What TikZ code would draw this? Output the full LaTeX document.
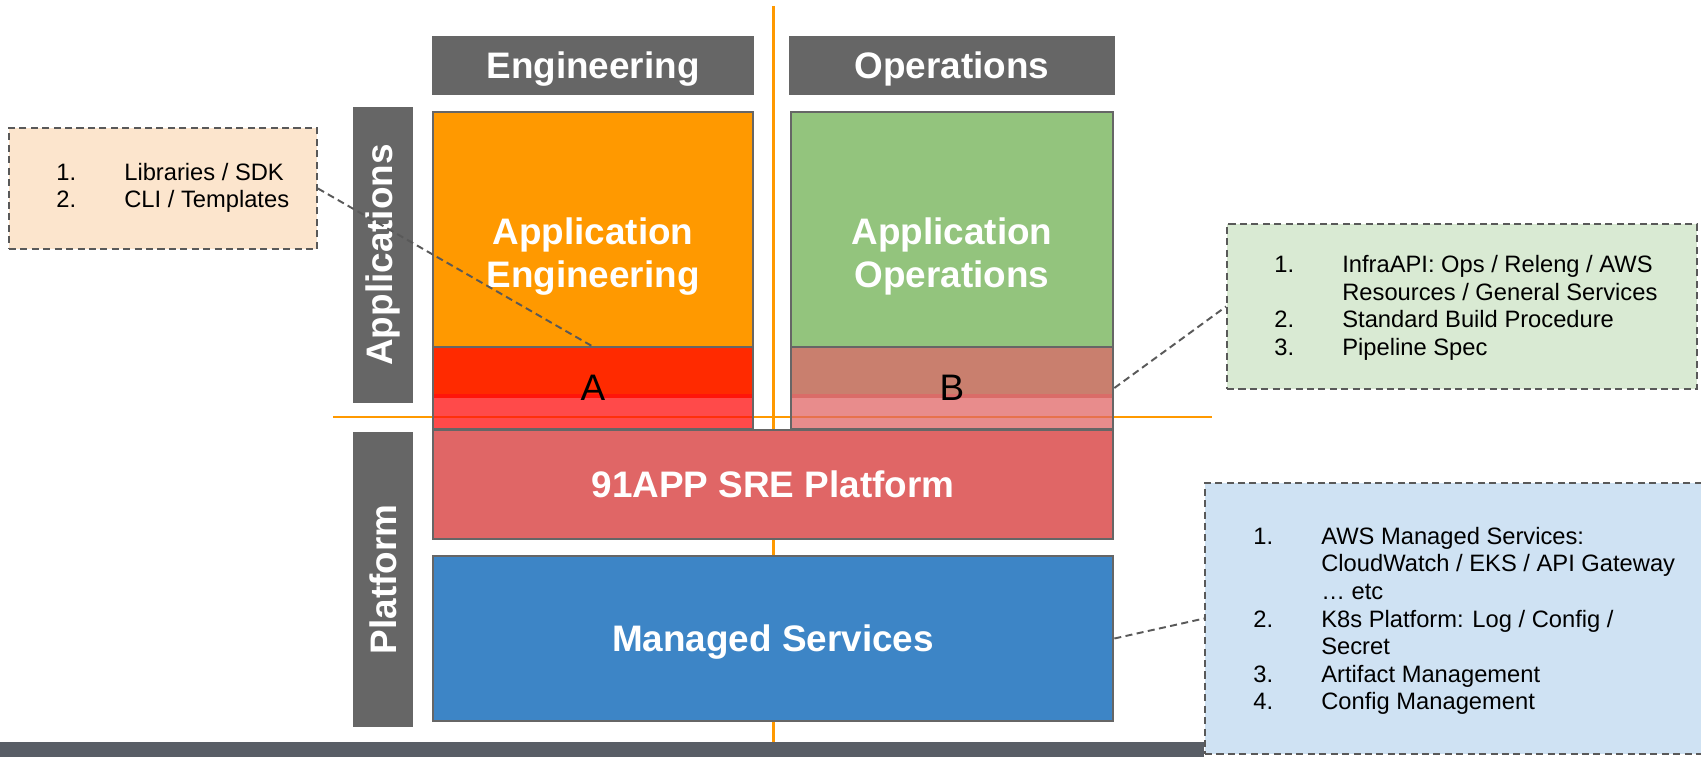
\documentclass[tikz,border=0pt]{standalone}
\usepackage{fontspec}
\setmainfont{Liberation Sans}

\definecolor{hdrgray}{HTML}{666666}
\definecolor{guideorange}{HTML}{FF9900}
\definecolor{engorange}{HTML}{FF9900}
\definecolor{opsgreen}{HTML}{93C47D}
\definecolor{zonered}{HTML}{FF2A00}
\definecolor{zoneglow}{HTML}{FF0E0E}
\definecolor{zonebrown}{HTML}{C97F6E}
\definecolor{srered}{HTML}{E06666}
\definecolor{msblue}{HTML}{3D85C6}
\definecolor{notepeach}{HTML}{FCE5CD}
\definecolor{notegreen}{HTML}{D9EAD3}
\definecolor{noteblue}{HTML}{CFE2F3}
\definecolor{leadgray}{HTML}{595959}
\definecolor{bandgray}{HTML}{595E66}

\newcommand{\noteline}[2]{\makebox[1.36cm][l]{#1}#2}
\newcommand{\notecont}[1]{\hspace*{1.36cm}#1}

\begin{document}
\begin{tikzpicture}[x=0.02cm, y=-0.02cm, header/.style={fill=hdrgray, text=white, font=\fontsize{21}{25}\selectfont\bfseries, minimum height=1.18cm, text depth=0pt, inner sep=0pt}, sidebar/.style={fill=hdrgray, text=white, font=\fontsize{21}{25}\selectfont\bfseries, rotate=90, minimum height=1.2cm, inner sep=0pt}, block/.style={draw=hdrgray, line width=1.6pt, text=white, font=\fontsize{21}{24.4}\selectfont\bfseries, text depth=0pt, inner sep=0pt}, blocktext/.style={text=white, font=\fontsize{21}{24.4}\selectfont\bfseries, align=center, inner sep=0pt}, zone/.style={draw=hdrgray, line width=1.6pt, text=black, font=\fontsize{21}{25}\selectfont, minimum height=1.64cm, inner sep=0pt}, zonefill/.style={inner sep=0pt}, note/.style={draw=leadgray, line width=1.1pt, dash pattern=on 4pt off 2.5pt, inner sep=0pt}, notetext/.style={anchor=west, align=left, font=\fontsize{13.5}{15.7}\selectfont, inner sep=0pt}, leader/.style={draw=leadgray, line width=1.1pt, dash pattern=on 4pt off 2.5pt}, guide/.style={draw=guideorange, line width=1.7pt}]

    \useasboundingbox (0,0) rectangle (1701,757);

    % =========================================================================
    % Ejes de fondo
    % =========================================================================
    \draw[guide] (773,6) -- (773,757);
    \draw[guide] (333,417) -- (1212,417);
    \fill[bandgray] (0,742) rectangle (1204,757);

    % Cabeceras
    \node[header, minimum width=6.44cm] (hdrEng) at (593,65.5) {Engineering};
    \node[header, minimum width=6.52cm] (hdrOps) at (952,65.5) {Operations};

    % Barras laterales
    \node[sidebar, minimum width=5.92cm] (sideApp) at (383,255) {Applications};
    \node[sidebar, minimum width=5.9cm] (sidePlat) at (383,579.5) {Platform};

    % =========================================================================
    % Applications
    % =========================================================================
    \node[block, fill=engorange, minimum width=6.4cm, minimum height=4.7cm] (appEng) at (593,229.5) {};
    \node[blocktext] (appEngTxt) at ([yshift=-0.54cm]appEng.center) {Application\\Engineering};
    \node[block, fill=opsgreen, minimum width=6.44cm, minimum height=4.7cm] (appOps) at (952,229.5) {};
    \node[blocktext] (appOpsTxt) at ([yshift=-0.54cm]appOps.center) {Application\\Operations};

    % Zona A
    \node[zonefill, fill=zonered, minimum width=6.4cm, minimum height=1.02cm] (aTop) at (593,372.5) {};
    \node[zonefill, fill=zoneglow, fill opacity=0.75, minimum width=6.4cm, minimum height=0.7cm] (aLow) at (593,411.5) {};
    \node[zone, minimum width=6.4cm] (aBox) at (593,388) {A};

    % Zona B
    \node[zonefill, fill=zonebrown, minimum width=6.44cm, minimum height=1.02cm] (bTop) at (952,372.5) {};
    \node[zonefill, fill=srered, fill opacity=0.75, minimum width=6.44cm, minimum height=0.7cm] (bLow) at (952,411.5) {};
    \node[zone, minimum width=6.44cm] (bBox) at (952,388) {B};

    % =========================================================================
    % Platform
    % =========================================================================
    \node[block, fill=srered, minimum width=13.6cm, minimum height=2.18cm] (sre) at (773,484.5) {91APP SRE Platform};
    \node[block, fill=msblue, minimum width=13.6cm, minimum height=3.3cm] (ms) at (773,638.5) {Managed Services};

    % Notas
    \node[note, fill=notepeach, minimum width=6.16cm, minimum height=2.42cm] (noteA) at (163,188.5) {};
    \node[notetext] (noteAtxt) at (56,188) {\noteline{1.}{Libraries / SDK}\\
        \noteline{2.}{CLI / Templates}};

    \node[note, fill=notegreen, minimum width=9.4cm, minimum height=3.3cm] (noteB) at (1462,306.5) {};
    \node[notetext] (noteBtxt) at (1274,308) {\noteline{1.}{InfraAPI: Ops / Releng / AWS}\\
        \notecont{Resources / General Services}\\
        \noteline{2.}{Standard Build Procedure}\\
        \noteline{3.}{Pipeline Spec}};

    \node[note, fill=noteblue, minimum width=10.14cm, minimum height=5.42cm] (noteC) at (1458.5,618.5) {};
    \node[notetext] (noteCtxt) at (1253,621) {\noteline{1.}{AWS Managed Services:}\\
        \notecont{CloudWatch / EKS / API Gateway}\\
        \notecont{\dots\ etc}\\
        \noteline{2.}{K8s Platform: Log / Config /}\\
        \notecont{Secret}\\
        \noteline{3.}{Artifact Management}\\
        \noteline{4.}{Config Management}};

    % Lineas guia
    \draw[leader] (noteA.east) -- (aTop.north);
    \draw[leader] (bBox.east) -- (noteB.west);
    \draw[leader] (ms.east) -- (noteC.west);

\end{tikzpicture}
\end{document}
